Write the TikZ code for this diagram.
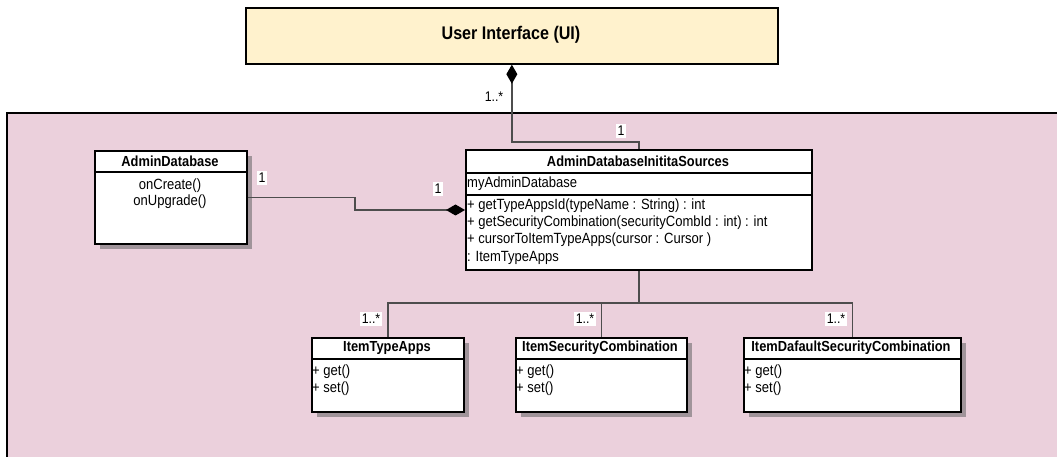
\documentclass[tikz,border=0pt]{standalone}
\usepackage{fontspec}
\setmainfont[FakeStretch=0.88]{Liberation Sans}
\usetikzlibrary{arrows.meta,shadows}
\definecolor{pinkbg}{HTML}{EBD0DC}
\definecolor{uifill}{HTML}{FFF2CD}
\definecolor{linegray}{HTML}{4D4D4D}
\definecolor{shadowgray}{HTML}{A0949A}
\begin{document}
\begin{tikzpicture}[x=1pt,y=-1pt,
  box/.style={draw=black, line width=1.7pt, fill=white, rectangle, inner sep=0pt, anchor=north west},
  shad/.style={general shadow={fill=shadowgray, shadow xshift=5pt, shadow yshift=-5pt}},
  conn/.style={draw=linegray, line width=1.3pt},
  comp/.style={-{Diamond[length=19pt,width=11pt,color=black,fill=black]}},
  mult/.style={fill=white, inner sep=1.8pt, font=\fontsize{14}{16}\selectfont},
  ttl/.style={font=\bfseries\fontsize{14.6}{16}\selectfont, inner sep=0pt},
  txt/.style={font=\fontsize{14.8}{17}\selectfont, inner sep=0pt, anchor=west},
  divider/.style={draw=black, line width=1.7pt},
]
\useasboundingbox (0,0) rectangle (1057,457);
% package frame
\fill[pinkbg] (7,113) rectangle (1075,475);
\draw[line width=1.7pt] (7,475) -- (7,113) -- (1075,113);

% UI box
\node[box, fill=uifill, minimum width=532pt, minimum height=56pt] (ui) at (245,7) {};
\node[font=\bfseries\fontsize{18.3}{20}\selectfont, inner sep=0pt] (uit) at (511,35) {User Interface (UI)};

% AdminDatabase
\node[box, shad, minimum width=152pt, minimum height=93pt] (ad) at (94,150) {};
\draw[divider] (94,172) -- (246,172);
\node[ttl] (adt) at (170,161) {AdminDatabase};
\node[txt, anchor=center] (ad1) at (170,186) {onCreate()};
\node[txt, anchor=center] (ad2) at (170,202) {onUpgrade()};

% AdminDatabaseInititaSources
\node[box, minimum width=346pt, minimum height=120pt] (src) at (465,149) {};
\draw[divider] (465,173) -- (811,173);
\draw[divider] (465,195) -- (811,195);
\node[ttl] (srct) at (638,161) {AdminDatabaseInititaSources};
\node[txt] (s0) at (467,184) {myAdminDatabase};
\node[txt] (s1) at (467,206) {+ getTypeAppsId(typeName : String) : int};
\node[txt] (s2) at (467,223) {+ getSecurityCombination(securityCombId : int) : int};
\node[txt] (s3) at (467,240) {+ cursorToItemTypeApps(cursor : Cursor )};
\node[txt] (s4) at (467,258) {: ItemTypeApps};

% Item boxes
\node[box, shad, minimum width=152pt, minimum height=74pt] (ita) at (311,337) {};
\draw[divider] (311,359) -- (463,359);
\node[ttl] (itat) at (387,348) {ItemTypeApps};
\node[txt] (ita1) at (312,372) {+ get()};
\node[txt] (ita2) at (312,389) {+ set()};

\node[box, shad, minimum width=171pt, minimum height=74pt] (isc) at (515,337) {};
\draw[divider] (515,359) -- (686,359);
\node[ttl] (isct) at (600,348) {ItemSecurityCombination};
\node[txt] (isc1) at (516,372) {+ get()};
\node[txt] (isc2) at (516,389) {+ set()};

\node[box, shad, minimum width=217pt, minimum height=74pt] (idsc) at (743,337) {};
\draw[divider] (743,359) -- (960,359);
\node[ttl] (idsct) at (851,348) {ItemDafaultSecurityCombination};
\node[txt] (idsc1) at (744,372) {+ get()};
\node[txt] (idsc2) at (744,389) {+ set()};

% connectors
\coordinate (turn) at (0,142);
\draw[conn, comp] (src.north) -- (src.north |- turn) -- (ui.south |- turn) -- (ui.south);

\coordinate (bend) at (355,210);
\draw[conn, comp] (ad.east) -| (bend) -- (src.west |- bend);

\coordinate (jy) at (0,303);
\draw[conn] (src.south) -- (src.south |- jy);
\draw[conn] (ita.north) -- (ita.north |- jy) -- (idsc.north |- jy) -- (idsc.north);
\draw[conn] (isc.north) -- (isc.north |- jy);

% multiplicities
\node[mult] (m1) at (494,97) {1..*};
\node[mult] (m2) at (621,131) {1};
\node[mult] (m3) at (262,178) {1};
\node[mult] (m4) at (438,189) {1};
\node[mult] (m5) at (371,319) {1..*};
\node[mult] (m6) at (585,319) {1..*};
\node[mult] (m7) at (836,319) {1..*};
\end{tikzpicture}
\end{document}
